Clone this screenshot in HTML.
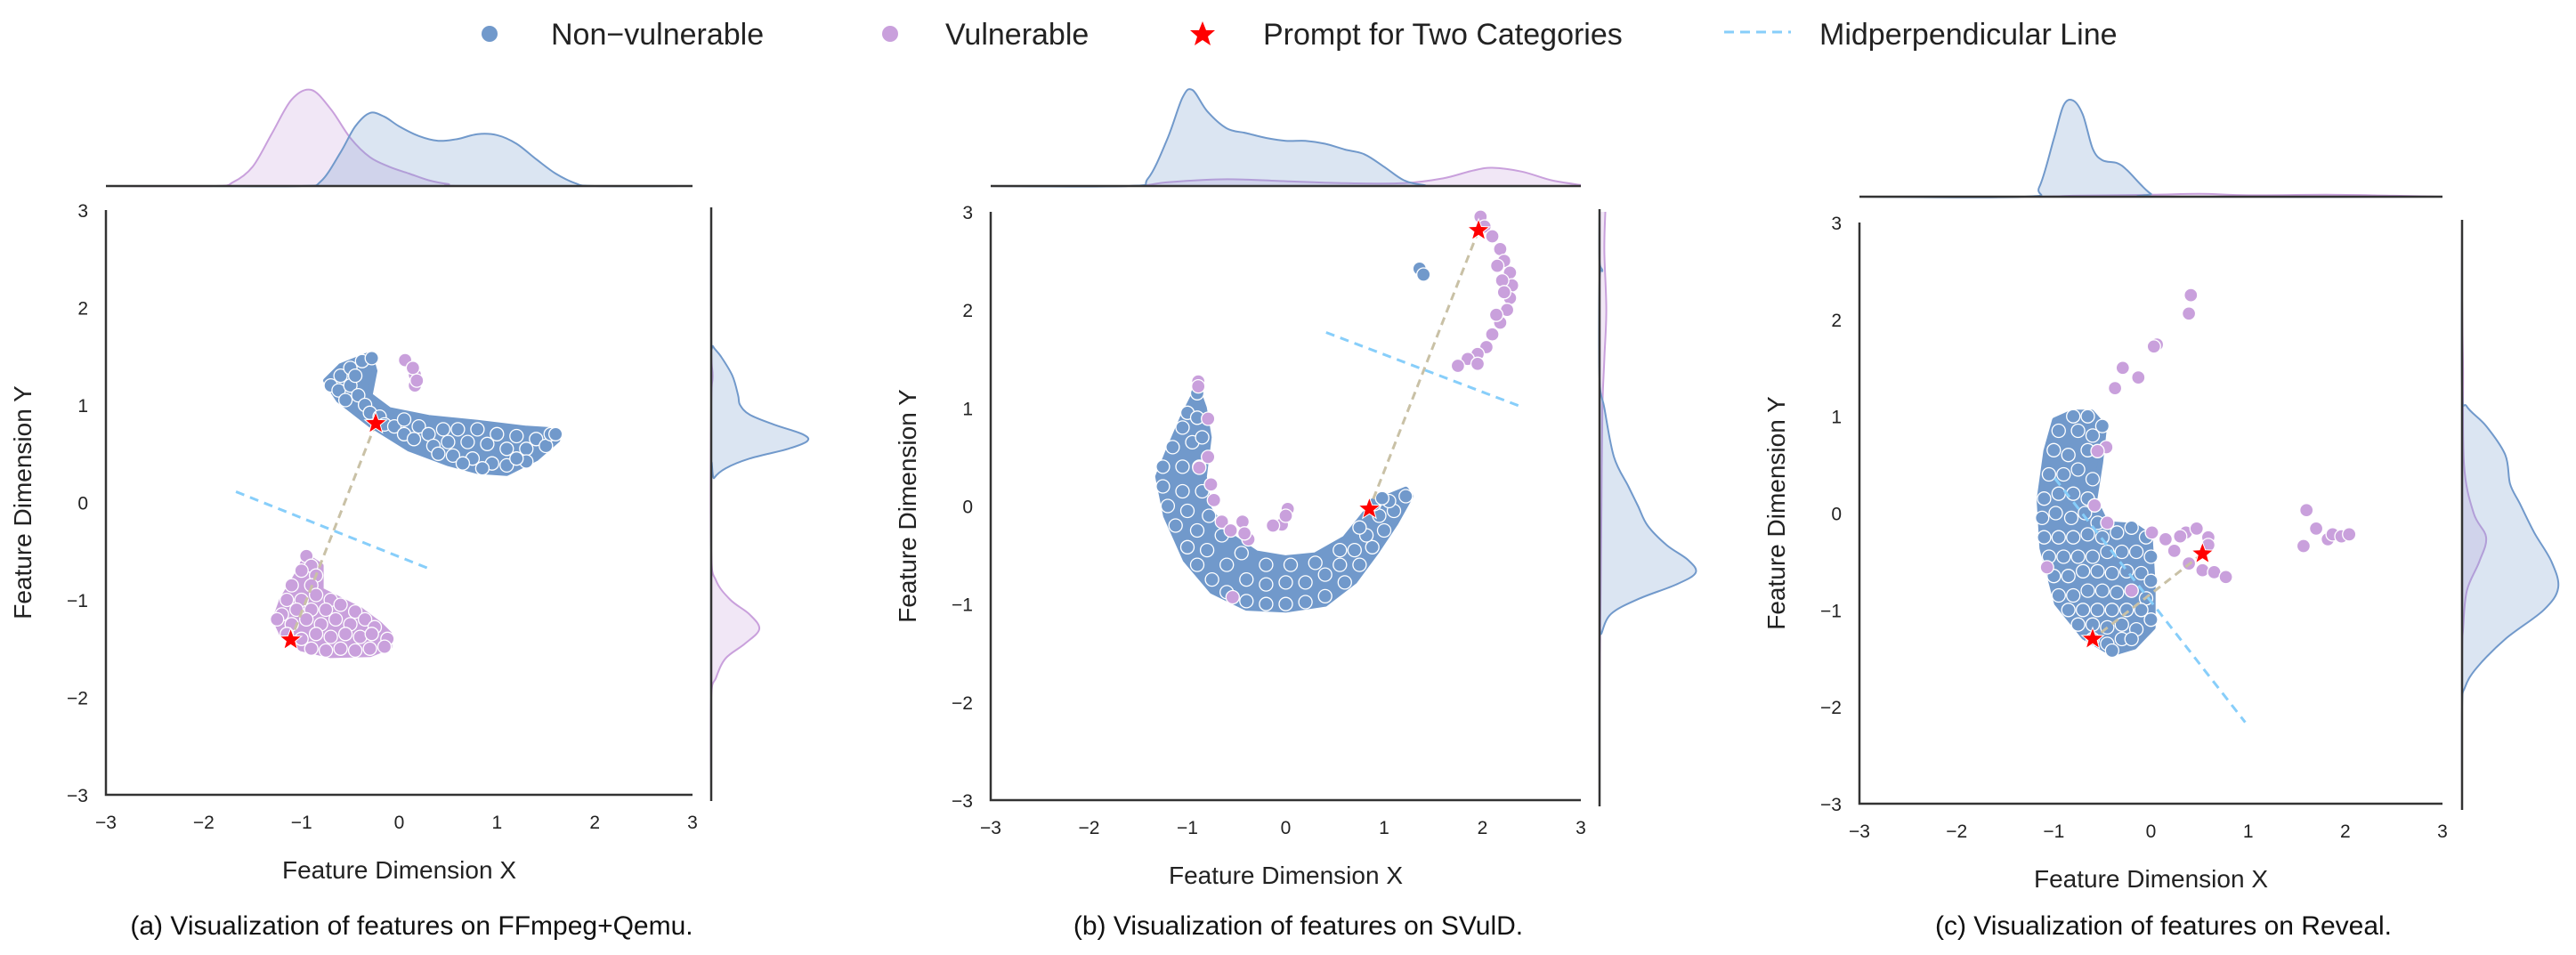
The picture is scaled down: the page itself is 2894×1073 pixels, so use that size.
<!DOCTYPE html>
<html><head><meta charset="utf-8"><style>
html,body{margin:0;padding:0;background:#fff;}
svg{display:block;font-family:"Liberation Sans",Arial,sans-serif;}
</style></head><body>
<svg id="chart" width="2894" height="1073" viewBox="0 0 2894 1073" xmlns="http://www.w3.org/2000/svg">
<g>
  <circle cx="550" cy="38" r="9" fill="#7199cb"/>
  <text x="619" y="50" font-size="34" fill="#222">Non−vulnerable</text>
  <circle cx="1000" cy="38" r="9" fill="#c9a0dc"/>
  <text x="1062" y="50" font-size="34" fill="#222">Vulnerable</text>
  <polygon points="1351,24 1355,34 1365,34 1357,41 1360,51 1351,45 1342,51 1345,41 1337,34 1347,34" fill="#ff0000"/>
  <text x="1419" y="50" font-size="34" fill="#222">Prompt for Two Categories</text>
  <line x1="1937" y1="36" x2="2012" y2="36" stroke="#87cefa" stroke-width="3" stroke-dasharray="11,7"/>
  <text x="2044" y="50" font-size="34" fill="#222">Midperpendicular Line</text>
</g>
</svg>
<script>
// ---------- data ----------
const xTicks = [-3,-2,-1,0,1,2,3];
const yTicks = [-3,-2,-1,0,1,2,3];
const tickLabels = ["−3","−2","−1","0","1","2","3"];
const captions = ["(a) Visualization of features on FFmpeg+Qemu.","(b) Visualization of features on SVulD.","(c) Visualization of features on Reveal."];

// Panel A
const aBlueHull = [[-0.75,1.25],[-0.6,1.4],[-0.3,1.52],[-0.25,1.35],[-0.3,1.1],[-0.1,0.95],[0.3,0.87],[0.8,0.82],[1.3,0.76],[1.62,0.74],[1.62,0.64],[1.4,0.45],[1.1,0.3],[0.8,0.32],[0.5,0.4],[0.1,0.55],[-0.3,0.8],[-0.62,1.05]];
const aBluePts = [[-0.7,1.2],[-0.6,1.3],[-0.5,1.38],[-0.38,1.45],[-0.28,1.48],[-0.62,1.15],[-0.5,1.2],[-0.45,1.3],[-0.55,1.05],[-0.42,1.1],[-0.35,1.0],[-0.3,0.92],[-0.2,0.88],[-0.15,0.8],[-0.05,0.78],[0.05,0.85],[0.05,0.7],[0.15,0.65],[0.2,0.78],[0.3,0.7],[0.35,0.58],[0.45,0.75],[0.5,0.62],[0.55,0.48],[0.6,0.75],[0.7,0.62],[0.75,0.45],[0.8,0.75],[0.9,0.6],[0.95,0.4],[1.0,0.7],[1.1,0.55],[1.1,0.38],[1.2,0.68],[1.3,0.55],[1.3,0.42],[1.4,0.65],[1.5,0.58],[1.55,0.7],[1.6,0.7],[0.65,0.4],[0.85,0.35],[0.4,0.5],[1.2,0.45]];
const aPurpleHull = [[-0.95,-0.55],[-0.8,-0.65],[-0.8,-0.9],[-0.6,-1.0],[-0.4,-1.1],[-0.2,-1.25],[-0.1,-1.35],[-0.1,-1.48],[-0.3,-1.56],[-0.7,-1.57],[-1.0,-1.5],[-1.2,-1.35],[-1.27,-1.2],[-1.2,-1.0],[-1.05,-0.75]];
const aPurplePts = [[-0.95,-0.55],[-0.9,-0.65],[-0.85,-0.75],[-1.0,-0.7],[-1.1,-0.85],[-0.9,-0.85],[-1.15,-1.0],[-1.0,-1.0],[-0.85,-0.95],[-0.7,-1.0],[-1.2,-1.15],[-1.05,-1.1],[-0.9,-1.1],[-0.75,-1.1],[-0.6,-1.05],[-0.45,-1.12],[-1.25,-1.2],[-1.1,-1.25],[-0.95,-1.2],[-0.8,-1.25],[-0.65,-1.2],[-0.5,-1.25],[-0.35,-1.2],[-0.25,-1.28],[-1.15,-1.35],[-1.0,-1.4],[-0.85,-1.35],[-0.7,-1.38],[-0.55,-1.35],[-0.4,-1.38],[-0.28,-1.35],[-0.12,-1.4],[-0.9,-1.5],[-0.75,-1.52],[-0.6,-1.5],[-0.45,-1.52],[-0.3,-1.5],[-0.15,-1.48],[0.06,1.46],[0.16,1.31],[0.16,1.2],[0.14,1.38],[0.18,1.25]];
const aStars = [[-0.24,0.81],[-1.11,-1.41]];
const aMid = [[-1.67,0.11],[0.33,-0.69]];
const aTopX = [-2.0,-1.0,-0.8,-0.6,-0.45,-0.3,-0.15,0,0.2,0.4,0.6,0.8,1.0,1.2,1.4,1.6,1.8,2.0,3.0];
const aTopBlue = [0,0,0.05,0.35,0.62,0.76,0.72,0.62,0.52,0.47,0.49,0.54,0.53,0.44,0.28,0.13,0.03,0,0];
const aTopPurpleX = [-3.0,-1.9,-1.7,-1.5,-1.3,-1.1,-0.9,-0.7,-0.5,-0.3,-0.1,0.1,0.3,0.5,0.7,3.0];
const aTopPurple = [0,0,0.04,0.2,0.55,0.9,1.0,0.8,0.5,0.3,0.2,0.13,0.06,0.02,0,0];
const aRightBlueY = [3.0,1.7,1.6,1.5,1.3,1.1,1.0,0.9,0.8,0.7,0.63,0.55,0.45,0.35,0.25,0.15,-3.0];
const aRightBlue = [0,0,0.02,0.1,0.22,0.28,0.3,0.4,0.65,0.95,1.0,0.8,0.4,0.15,0.03,0,0];
const aRightPurpleY = [3.0,1.6,1.3,1.0,-0.5,-0.8,-1.0,-1.15,-1.3,-1.45,-1.6,-1.8,-2.0,-3.0];
const aRightPurple = [0,0,0.015,0,0,0.05,0.2,0.4,0.5,0.35,0.15,0.05,0,0];

// Panel B
const bBlueHull = [[-0.9,1.2],[-1.05,0.9],[-1.2,0.55],[-1.3,0.3],[-1.22,-0.1],[-1.02,-0.55],[-0.75,-0.87],[-0.4,-1.04],[0,-1.06],[0.4,-1.0],[0.7,-0.77],[0.92,-0.47],[1.12,-0.17],[1.27,0.1],[1.22,0.17],[1.0,0.08],[0.8,-0.08],[0.6,-0.33],[0.3,-0.5],[0,-0.53],[-0.3,-0.48],[-0.6,-0.28],[-0.78,-0.03],[-0.83,0.3],[-0.78,0.7],[-0.83,1.0]];
const bBluePts = [[-0.9,1.15],[-1.0,0.95],[-1.05,0.8],[-1.15,0.6],[-1.25,0.4],[-1.25,0.2],[-1.2,0.0],[-1.12,-0.2],[-1.0,-0.42],[-0.9,-0.6],[-0.75,-0.75],[-0.6,-0.88],[-0.4,-0.97],[-0.2,-1.0],[0.0,-1.0],[0.2,-0.98],[0.4,-0.92],[0.6,-0.78],[0.75,-0.6],[0.88,-0.42],[1.0,-0.25],[1.1,-0.05],[1.22,0.1],[-0.9,0.9],[-0.95,0.65],[-1.05,0.4],[-1.05,0.15],[-1.0,-0.05],[-0.9,-0.25],[-0.8,-0.45],[-0.6,-0.6],[-0.4,-0.75],[-0.2,-0.8],[0.0,-0.78],[0.2,-0.78],[0.4,-0.7],[0.55,-0.6],[0.7,-0.45],[0.82,-0.3],[0.95,-0.1],[1.05,0.05],[-0.85,0.7],[-0.88,0.4],[-0.85,0.15],[-0.78,-0.1],[-0.65,-0.3],[-0.45,-0.48],[-0.2,-0.6],[0.05,-0.6],[0.3,-0.58],[0.55,-0.45],[0.75,-0.22],[0.9,0.02],[0.98,0.08],[1.36,2.42],[1.4,2.36]];
const bPurplePts = [[1.98,2.95],[2.02,2.85],[2.1,2.75],[2.18,2.62],[2.22,2.5],[2.28,2.38],[2.3,2.25],[2.28,2.12],[2.25,2.0],[2.18,1.87],[2.1,1.75],[2.04,1.62],[1.95,1.55],[1.85,1.5],[1.75,1.43],[2.2,2.3],[2.15,2.45],[1.95,1.45],[2.22,2.18],[2.14,1.95],[-0.89,1.27],[-0.89,1.22],[-0.79,0.89],[-0.88,0.39],[-0.79,0.5],[-0.76,0.22],[-0.73,0.06],[-0.65,-0.16],[-0.56,-0.25],[-0.44,-0.16],[-0.38,-0.34],[-0.42,-0.28],[0.02,-0.03],[-0.04,-0.19],[-0.13,-0.2],[0.0,-0.1],[-0.54,-0.93]];
const bStars = [[1.96,2.81],[0.85,-0.03]];
const bMid = [[0.41,1.77],[2.4,1.01]];
const bTopX = [-3.0,-1.6,-1.4,-1.2,-1.05,-0.95,-0.8,-0.6,-0.4,-0.2,0,0.2,0.4,0.6,0.8,1.0,1.2,1.4,1.6,3.0];
const bTopBlue = [0,0,0.08,0.5,0.92,1.0,0.78,0.6,0.55,0.5,0.47,0.47,0.44,0.38,0.33,0.2,0.06,0.01,0,0];
const bTopPurpleX = [-3.0,-1.6,-1.2,-0.6,0,0.6,1.2,1.6,1.9,2.1,2.4,2.7,3.0];
const bTopPurple = [0,0,0.04,0.07,0.05,0.03,0.03,0.08,0.16,0.19,0.15,0.06,0.01];
const bRightBlueY = [3.0,2.5,2.4,2.3,1.3,1.0,0.5,0.2,0,-0.2,-0.4,-0.55,-0.68,-0.8,-0.95,-1.1,-1.3,-1.4,-3.0];
const bRightBlue = [0,0,0.03,0,0,0.05,0.15,0.3,0.4,0.5,0.7,0.92,1.0,0.8,0.4,0.12,0.02,0,0];
const bRightPurpleY = [3.0,2.6,2.0,1.5,1.0,0,-1.0,-2.0,-3.0];
const bRightPurple = [0.06,0.05,0.07,0.05,0.03,0.02,0.01,0,0];

// Panel C
const cBlueHull = [[-0.81,1.04],[-0.61,1.04],[-0.48,0.89],[-0.52,0.52],[-0.58,0.14],[-0.46,-0.11],[-0.17,-0.13],[-0.01,-0.24],[0.02,-0.74],[0.02,-1.18],[-0.17,-1.38],[-0.4,-1.45],[-0.69,-1.28],[-0.97,-0.93],[-1.12,-0.36],[-1.15,0.14],[-1.08,0.64],[-0.99,0.96]];
const cBluePts = [[-0.8,1.0],[-0.65,1.0],[-0.95,0.85],[-0.75,0.85],[-0.6,0.8],[-0.5,0.9],[-1.0,0.65],[-0.85,0.6],[-0.65,0.65],[-1.05,0.4],[-0.9,0.4],[-0.75,0.45],[-0.6,0.35],[-1.1,0.15],[-0.95,0.2],[-0.8,0.2],[-0.65,0.15],[-1.12,-0.05],[-0.98,0.0],[-0.82,-0.05],[-0.68,0.0],[-0.55,-0.1],[-1.1,-0.25],[-0.95,-0.25],[-0.8,-0.25],[-0.65,-0.22],[-0.5,-0.25],[-0.35,-0.2],[-0.2,-0.15],[-0.05,-0.25],[-1.05,-0.45],[-0.9,-0.45],[-0.75,-0.45],[-0.6,-0.45],[-0.45,-0.4],[-0.3,-0.4],[-0.15,-0.4],[0.0,-0.45],[-1.0,-0.65],[-0.85,-0.65],[-0.7,-0.6],[-0.55,-0.6],[-0.4,-0.62],[-0.25,-0.6],[-0.1,-0.62],[0.0,-0.7],[-0.95,-0.85],[-0.8,-0.85],[-0.65,-0.8],[-0.5,-0.8],[-0.35,-0.82],[-0.2,-0.8],[-0.05,-0.88],[-0.85,-1.0],[-0.7,-1.0],[-0.55,-1.0],[-0.4,-1.0],[-0.25,-1.0],[-0.1,-1.0],[0.0,-1.1],[-0.75,-1.15],[-0.6,-1.15],[-0.45,-1.18],[-0.3,-1.15],[-0.15,-1.2],[-0.6,-1.3],[-0.45,-1.35],[-0.3,-1.3],[-0.2,-1.3],[-0.4,-1.42]];
const cPurplePts = [[0.41,2.25],[0.39,2.06],[0.06,1.74],[0.03,1.72],[-0.29,1.5],[-0.13,1.4],[-0.37,1.29],[-0.46,0.68],[-0.55,0.64],[-0.58,0.08],[-0.45,-0.1],[-1.07,-0.56],[-0.2,-0.8],[0.01,-0.2],[0.15,-0.27],[0.24,-0.39],[0.36,-0.2],[0.47,-0.16],[0.59,-0.25],[0.59,-0.33],[0.39,-0.52],[0.53,-0.59],[0.65,-0.61],[0.77,-0.66],[0.3,-0.24],[1.6,0.03],[1.57,-0.34],[1.7,-0.16],[1.82,-0.27],[1.87,-0.22],[1.96,-0.24],[2.04,-0.22]];
const cStars = [[0.53,-0.42],[-0.6,-1.3]];
const cMid = [[-0.99,0.36],[0.97,-2.16]];
const cTopX = [-3.0,-1.3,-1.15,-1.0,-0.9,-0.8,-0.7,-0.6,-0.5,-0.35,-0.25,-0.1,0,0.1,3.0];
const cTopBlue = [0,0,0.1,0.6,0.95,1.0,0.85,0.5,0.38,0.35,0.28,0.12,0.03,0,0];
const cTopPurpleX = [-3.0,-1.2,-0.8,0,0.5,1.0,1.8,2.5,3.0];
const cTopPurple = [0,0,0.01,0.02,0.03,0.015,0.02,0.01,0];
const cRightBlueY = [3.0,1.3,1.1,0.9,0.6,0.3,0.1,-0.2,-0.5,-0.77,-1.0,-1.3,-1.6,-1.8,-2.0,-3.0];
const cRightBlue = [0,0,0.05,0.25,0.45,0.5,0.6,0.75,0.93,1.0,0.85,0.45,0.15,0.03,0,0];
const cRightPurpleY = [3.0,2.2,1.5,0.5,0,-0.25,-0.5,-0.8,-1.2,-1.5,-3.0];
const cRightPurple = [0,0,0.01,0.02,0.12,0.25,0.18,0.05,0.01,0,0];

// ---------- rendering ----------
const NS = "http://www.w3.org/2000/svg";
const svg = document.getElementById('chart');
const BLUE = "#7199cb", PURPLE = "#c9a0dc";
const KDE_H = 108;

function mk(tag, attrs, parent) {
  const e = document.createElementNS(NS, tag);
  for (const k in attrs) e.setAttribute(k, attrs[k]);
  (parent || svg).appendChild(e);
  return e;
}
function smoothPath(pts) {
  let d = "M" + pts[0][0].toFixed(1) + "," + pts[0][1].toFixed(1);
  for (let i = 0; i < pts.length - 1; i++) {
    const p0 = pts[Math.max(0, i - 1)], p1 = pts[i], p2 = pts[i + 1], p3 = pts[Math.min(pts.length - 1, i + 2)];
    const c1 = [p1[0] + (p2[0] - p0[0]) / 6, p1[1] + (p2[1] - p0[1]) / 6];
    const c2 = [p2[0] - (p3[0] - p1[0]) / 6, p2[1] - (p3[1] - p1[1]) / 6];
    d += " C" + c1[0].toFixed(1) + "," + c1[1].toFixed(1) + " " + c2[0].toFixed(1) + "," + c2[1].toFixed(1) + " " + p2[0].toFixed(1) + "," + p2[1].toFixed(1);
  }
  return d;
}
function starPts(cx, cy, R) {
  const r = R * 0.42, out = [];
  for (let i = 0; i < 10; i++) {
    const a = -Math.PI / 2 + i * Math.PI / 5, rr = i % 2 ? r : R;
    out.push((cx + rr * Math.cos(a)).toFixed(1) + "," + (cy + rr * Math.sin(a)).toFixed(1));
  }
  return out.join(" ");
}

const panels = [
  {id:"a", L:119, R:778, T:236, B:893, topBase:209, rightX:799, blueHull:aBlueHull, bluePts:aBluePts, purpleHull:aPurpleHull, purplePts:aPurplePts, stars:aStars, mid:aMid,
   topBX:aTopX, topB:aTopBlue, topPX:aTopPurpleX, topP:aTopPurple, rBY:aRightBlueY, rB:aRightBlue, rPY:aRightPurpleY, rP:aRightPurple},
  {id:"b", L:1113, R:1776, T:238, B:899, topBase:209, rightX:1797, blueHull:bBlueHull, bluePts:bBluePts, purpleHull:null, purplePts:bPurplePts, stars:bStars, mid:bMid,
   topBX:bTopX, topB:bTopBlue, topPX:bTopPurpleX, topP:bTopPurple, rBY:bRightBlueY, rB:bRightBlue, rPY:bRightPurpleY, rP:bRightPurple},
  {id:"c", L:2089, R:2744, T:250, B:903, topBase:221, rightX:2766, blueHull:cBlueHull, bluePts:cBluePts, purpleHull:null, purplePts:cPurplePts, stars:cStars, mid:cMid,
   topBX:cTopX, topB:cTopBlue, topPX:cTopPurpleX, topP:cTopPurple, rBY:cRightBlueY, rB:cRightBlue, rPY:cRightPurpleY, rP:cRightPurple}
];

panels.forEach((p, pi) => {
  const sx = v => p.L + (v + 3) / 6 * (p.R - p.L);
  const sy = v => p.B - (v + 3) / 6 * (p.B - p.T);
  const g = mk('g', {});
  
  

  const gt = mk('g', {}, g);
  
  
  [[p.topPX, p.topP, PURPLE, 'purple'], [p.topBX, p.topB, BLUE, 'blue']].forEach(([xs, ds, col, nm]) => {
    const pts = xs.map((x, i) => [sx(x), p.topBase - ds[i] * KDE_H]);
    const d = smoothPath(pts);
    const f = mk('path', {d: d + " L" + pts[pts.length-1][0] + "," + p.topBase + " L" + pts[0][0] + "," + p.topBase + " Z", fill: col, 'fill-opacity': 0.25, stroke: 'none'}, gt);
    
    
    const l = mk('path', {d: d, fill: 'none', stroke: col, 'stroke-width': 2}, gt);
    
    
  });
  const tb = mk('line', {x1: p.L, y1: p.topBase, x2: p.R, y2: p.topBase, stroke: '#333', 'stroke-width': 2.5}, gt);
  
  

  const gr = mk('g', {}, g);
  
  
  [[p.rPY, p.rP, PURPLE, 'purple'], [p.rBY, p.rB, BLUE, 'blue']].forEach(([ys, ds, col, nm]) => {
    const pts = ys.map((y, i) => [p.rightX + ds[i] * KDE_H, sy(y)]);
    const d = smoothPath(pts);
    const f = mk('path', {d: d + " L" + p.rightX + "," + pts[pts.length-1][1] + " L" + p.rightX + "," + pts[0][1] + " Z", fill: col, 'fill-opacity': 0.25, stroke: 'none'}, gr);
    
    
    const l = mk('path', {d: d, fill: 'none', stroke: col, 'stroke-width': 2}, gr);
    
    
  });
  const rb = mk('line', {x1: p.rightX, y1: p.T - 3, x2: p.rightX, y2: p.B + 7, stroke: '#333', 'stroke-width': 2.5}, gr);
  
  

  const gs = mk('g', {}, g);
  
  
  const hull = (h, col, nm) => {
    if (!h) return;
    const e = mk('polygon', {points: h.map(q => sx(q[0]).toFixed(1) + "," + sy(q[1]).toFixed(1)).join(" "), fill: col, stroke: col, 'stroke-width': 6, 'stroke-linejoin': 'round'}, gs);
    
    
  };
  hull(p.blueHull, BLUE, 'non-vulnerable');
  hull(p.purpleHull, PURPLE, 'vulnerable');
  p.bluePts.forEach(q => {
    const c = mk('circle', {cx: sx(q[0]).toFixed(1), cy: sy(q[1]).toFixed(1), r: 7.5, fill: BLUE, stroke: '#fff', 'stroke-width': 1.3}, gs);
    
    
  });
  p.purplePts.forEach(q => {
    const c = mk('circle', {cx: sx(q[0]).toFixed(1), cy: sy(q[1]).toFixed(1), r: 7.5, fill: PURPLE, stroke: '#fff', 'stroke-width': 1.3}, gs);
    
    
  });

  const cl = mk('line', {x1: sx(p.stars[0][0]), y1: sy(p.stars[0][1]), x2: sx(p.stars[1][0]), y2: sy(p.stars[1][1]), stroke: '#c9c1a6', 'stroke-width': 3, 'stroke-dasharray': '9,6'}, g);
  
  
  const ml = mk('line', {x1: sx(p.mid[0][0]), y1: sy(p.mid[0][1]), x2: sx(p.mid[1][0]), y2: sy(p.mid[1][1]), stroke: '#87cefa', 'stroke-width': 3, 'stroke-dasharray': '10,7'}, g);
  
  
  p.stars.forEach(s => {
    const st = mk('polygon', {points: starPts(sx(s[0]), sy(s[1]), 13), fill: '#ff0000', stroke: '#fff', 'stroke-width': 1}, g);
    
    
  });

  const ax = mk('path', {d: `M${p.L},${p.T} L${p.L},${p.B} L${p.R},${p.B}`, fill: 'none', stroke: '#333', 'stroke-width': 2.5}, g);
  
  
  xTicks.forEach((t, i) => {
    const e = mk('text', {x: sx(t), y: p.B + 38, 'font-size': 21, 'text-anchor': 'middle', fill: '#222'}, g);
    e.textContent = tickLabels[i];
    
    
  });
  yTicks.forEach((t, i) => {
    const e = mk('text', {x: p.L - 20, y: sy(t) + 8, 'font-size': 21, 'text-anchor': 'end', fill: '#222'}, g);
    e.textContent = tickLabels[i];
    
    
  });
  const xl = mk('text', {x: (p.L + p.R) / 2, y: p.B + 94, 'font-size': 28, 'text-anchor': 'middle', fill: '#222'}, g);
  xl.textContent = "Feature Dimension X";
  
  
  const yx = p.L - 84, yy = (p.T + p.B) / 2;
  const yl = mk('text', {x: yx, y: yy, 'font-size': 28, 'text-anchor': 'middle', fill: '#222', transform: `rotate(-90 ${yx} ${yy})`}, g);
  yl.textContent = "Feature Dimension Y";
  
  
  const cp = mk('text', {x: (p.L + p.R) / 2 + 14, y: 1050, 'font-size': 30, 'text-anchor': 'middle', fill: '#111'}, g);
  cp.textContent = captions[pi];
  
  
});
</script>
</body></html>
